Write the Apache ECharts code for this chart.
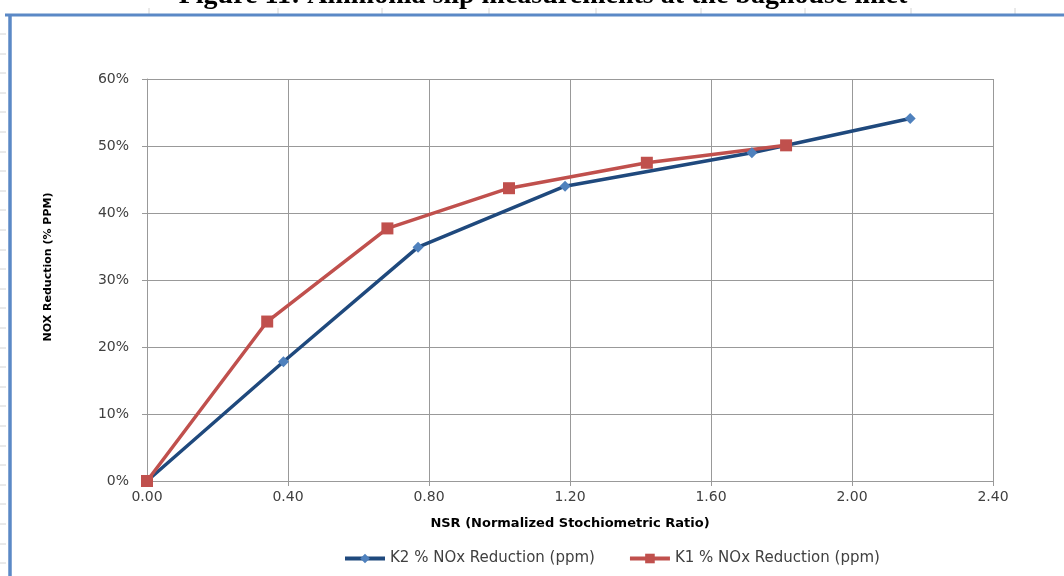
<!DOCTYPE html>
<html>
<head>
<meta charset="utf-8">
<script src="https://cdn.jsdelivr.net/npm/echarts@6/dist/echarts.min.js"></script>
<style>
  html, body { margin: 0; padding: 0; background: #fff; }
  #chart { width: 1064px; height: 576px; }
</style>
</head>
<body>
<div id="chart"></div>
<script>
// values
const k2Nsr = [0, 0.387, 0.769, 1.186, 1.716, 2.165];
const k2Reduction = [0, 0.178, 0.349, 0.440, 0.490, 0.541];
const k1Nsr = [0, 0.341, 0.682, 1.027, 1.418, 1.813];
const k1Reduction = [0, 0.238, 0.377, 0.437, 0.475, 0.501];
const seriesNames = ['K2 % NOx Reduction (ppm)', 'K1 % NOx Reduction (ppm)'];
const chartTitle = 'Figure 11: Ammonia slip measurements at the baghouse inlet';

const pairs = (xs, ys) => xs.map((x, i) => [x, ys[i]]);

// page decoration (document ruler / frame around the chart)
const deco = [];
[149, 278, 382, 489, 596, 701, 805, 911, 1015].forEach(x => {
  deco.push({ type: 'line', shape: { x1: x, y1: 8, x2: x, y2: 14 }, style: { stroke: '#d4d4d4', lineWidth: 1 } });
});
for (let y = 34; y < 576; y += 19.6) {
  deco.push({ type: 'line', shape: { x1: 0, y1: Math.round(y), x2: 6, y2: Math.round(y) }, style: { stroke: '#d4d4d4', lineWidth: 1 } });
}
deco.push({ type: 'line', shape: { x1: 5, y1: 15, x2: 1064, y2: 15 }, style: { stroke: '#5b89c6', lineWidth: 3 } });
deco.push({ type: 'line', shape: { x1: 10, y1: 14, x2: 10, y2: 576 }, style: { stroke: '#5b89c6', lineWidth: 3.5 } });
deco.push({
  type: 'text', x: 543, y: -4,
  style: { text: chartTitle, font: 'bold 28px "Liberation Serif"', fill: '#000', align: 'center', verticalAlign: 'middle' }
});

let myChart = echarts.init(document.getElementById('chart'));
let option = {
  backgroundColor: '#fff',
  animation: false,
  graphic: deco,
  grid: { left: 147, right: 71, top: 79, bottom: 95 },
  legend: {
    left: 338, top: 546,
    itemWidth: 40, itemHeight: 12, itemGap: 33,
    lineStyle: { width: 4 },
    textStyle: { fontFamily: 'DejaVu Sans', fontSize: 15, color: '#404040' },
    data: seriesNames
  },
  xAxis: {
    type: 'value', min: 0, max: 2.4, interval: 0.4,
    name: 'NSR (Normalized Stochiometric Ratio)',
    nameLocation: 'middle', nameGap: 36,
    nameTextStyle: { fontFamily: 'DejaVu Sans', fontWeight: 'bold', fontSize: 13, color: '#000' },
    axisLine: { lineStyle: { color: '#999' } },
    axisTick: { show: true, length: 5, lineStyle: { color: '#999' } },
    axisLabel: { formatter: v => v.toFixed(2), margin: 9, fontFamily: 'DejaVu Sans', fontSize: 14, color: '#404040' },
    splitLine: { show: true, lineStyle: { color: '#999', width: 1 } }
  },
  yAxis: {
    type: 'value', min: 0, max: 0.6, interval: 0.1,
    name: 'NOX Reduction (% PPM)',
    nameLocation: 'middle', nameGap: 93,
    nameTextStyle: { fontFamily: 'DejaVu Sans', fontWeight: 'bold', fontSize: 11, color: '#000', padding: [0, 0, 0, 26] },
    axisLine: { show: true, lineStyle: { color: '#999' } },
    axisTick: { show: true, length: 5, lineStyle: { color: '#999' } },
    axisLabel: { formatter: v => Math.round(v * 100) + '%', margin: 18, fontFamily: 'DejaVu Sans', fontSize: 14, color: '#404040' },
    splitLine: { show: true, lineStyle: { color: '#999', width: 1 } }
  },
  series: [
    {
      name: seriesNames[0], type: 'line',
      data: pairs(k2Nsr, k2Reduction),
      symbol: 'diamond', symbolSize: 11,
      lineStyle: { color: '#1f497d', width: 3.5 },
      itemStyle: { color: '#4f81bd' }
    },
    {
      name: seriesNames[1], type: 'line',
      data: pairs(k1Nsr, k1Reduction),
      symbol: 'rect', symbolSize: 12,
      lineStyle: { color: '#c0504d', width: 3.5 },
      itemStyle: { color: '#c0504d' }
    }
  ]
};
myChart.setOption(option);
</script>
</body>
</html>
